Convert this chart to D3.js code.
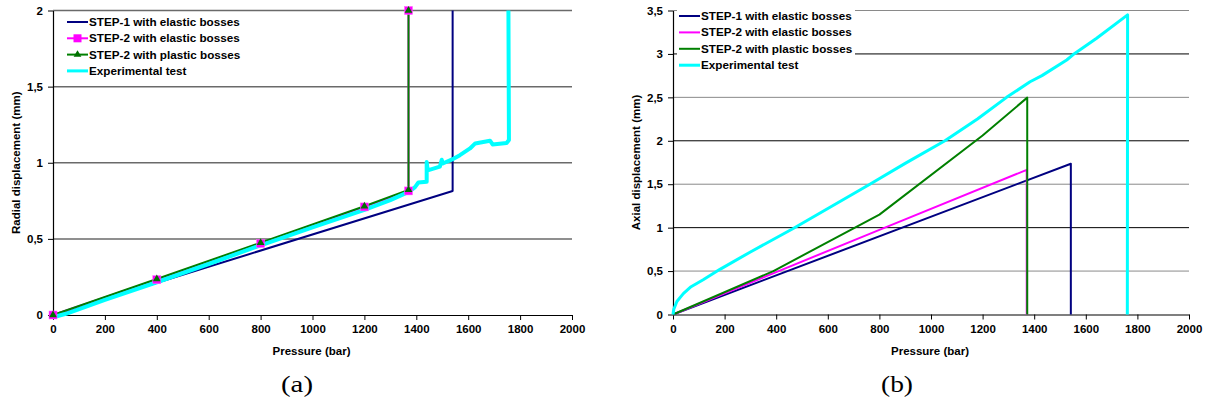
<!DOCTYPE html>
<html>
<head>
<meta charset="utf-8">
<script src="https://cdn.jsdelivr.net/npm/d3@7"></script>
<style>
  html, body { margin: 0; padding: 0; background: #fff; }
  svg { display: block; }
</style>
</head>
<body>
<svg id="chart" width="1208" height="403"></svg>
<script>
// ---------- DATA ----------
const pressureTicks = [0, 200, 400, 600, 800, 1000, 1200, 1400, 1600, 1800, 2000];
const radialTicks = [0, 0.5, 1, 1.5, 2];
const axialTicks = [0, 0.5, 1, 1.5, 2, 2.5, 3, 3.5];
const seriesNames = ["STEP-1 with elastic bosses", "STEP-2 with elastic bosses", "STEP-2 with plastic bosses", "Experimental test"];

// (a) Radial displacement (mm) vs pressure (bar)
const radialStep1Elastic = [[0, 0], [1540, 0.814], [1540, 2]];
const radialStep2Elastic = [[0, 0], [400, 0.232], [800, 0.47], [1200, 0.71], [1370, 0.815], [1370, 2]];
const radialStep2Plastic = [[0, 0], [400, 0.236], [800, 0.475], [1200, 0.714], [1370, 0.822], [1370, 2]];
const radialExperimental = [[0, -0.015], [50, 0.008], [200, 0.1], [400, 0.215], [600, 0.335], [800, 0.458], [1000, 0.575], [1200, 0.69], [1300, 0.755], [1373, 0.81], [1395, 0.84], [1408, 0.87], [1440, 0.875], [1440, 1.005], [1444, 0.95], [1491, 0.975], [1498, 1.02], [1502, 0.995], [1536, 1.02], [1568, 1.05], [1607, 1.094], [1627, 1.127], [1684, 1.145], [1694, 1.12], [1748, 1.13], [1757, 1.15], [1755, 2]];

// (b) Axial displacement (mm) vs pressure (bar)
const axialStep1Elastic = [[0, 0], [1542, 1.736], [1542, 0]];
const axialStep2Elastic = [[0, 0], [400, 0.488], [800, 0.975], [1371, 1.665], [1371, 0]];
const axialStep2Plastic = [[0, 0], [389, 0.5], [800, 1.15], [1200, 2.06], [1373, 2.497], [1373, 0]];
const axialExperimental = [[0, 0], [3, 0.06], [7, 0.09], [15, 0.15], [40, 0.24], [70, 0.32], [117, 0.40], [182, 0.52], [300, 0.72], [466, 0.99], [763, 1.5], [900, 1.74], [1054, 2.0], [1180, 2.25], [1293, 2.5], [1384, 2.68], [1430, 2.75], [1526, 2.93], [1550, 2.99], [1642, 3.18], [1762, 3.45], [1761, 0]];

const colors = ["#000080", "#ff00ff", "#008000", "#00ffff"];

// ---------- DRAW ----------
const svg = d3.select("#chart");
const fmt = d => String(d).replace(".", ",");
const SANS = "'Liberation Sans', Arial, sans-serif";
const FS = 11.5;

function panel(opts) {
  const g = svg.append("g").style("font-family", SANS);
  const x = d3.scaleLinear().domain([0, 2000]).range([opts.x0, opts.x1]);
  const y = d3.scaleLinear().domain([0, opts.ymax]).range([opts.y0, opts.y1]);

  // gridlines
  g.append("g").selectAll("line").data(opts.yTicks.filter(d => d > 0)).join("line")
    .attr("x1", opts.x0).attr("x2", opts.x1)
    .attr("y1", d => y(d)).attr("y2", d => y(d))
    .attr("stroke", d => opts.gridColor(d)).attr("stroke-width", opts.gridWidth);

  // axes
  const xAxis = d3.axisBottom(x).tickValues(pressureTicks).tickSize(5).tickSizeOuter(0).tickPadding(5).tickFormat(d => d);
  const gx = g.append("g").attr("transform", `translate(0,${opts.y0})`).call(xAxis);
  const yAxis = d3.axisLeft(y).tickValues(opts.yTicks).tickSize(5).tickSizeOuter(0).tickPadding(5).tickFormat(fmt);
  const gy = g.append("g").attr("transform", `translate(${opts.x0},0)`).call(yAxis);
  [gx, gy].forEach(a => {
    a.select(".domain").attr("stroke", "#000").attr("stroke-width", 1.2);
    a.selectAll(".tick line").attr("stroke", "#000");
    a.selectAll(".tick text").style("font-size", FS + "px").style("font-weight", "bold").attr("fill", "#000")
      .style("font-family", SANS);
  });

  // axis titles
  g.append("text").attr("x", (opts.x0 + opts.x1) / 2 - 1).attr("y", opts.y0 + 40)
    .attr("text-anchor", "middle").style("font-size", FS + "px").style("font-weight", "bold").text("Pressure (bar)");
  g.append("text").attr("transform", `translate(${opts.x0 - 33},${(opts.y0 + opts.y1) / 2}) rotate(-90)`)
    .attr("text-anchor", "middle").style("font-size", FS + "px").style("font-weight", "bold").text(opts.yTitle);

  // panel label
  g.append("text").attr("x", opts.labelX).attr("y", 392).attr("text-anchor", "middle")
    .attr("textLength", 32).attr("lengthAdjust", "spacingAndGlyphs")
    .style("font-family", "'Liberation Serif', 'Times New Roman', serif").style("font-size", "24px").text(opts.label);

  const line = d3.line().x(d => x(d[0])).y(d => y(d[1]));
  const sets = opts.series;
  // lines
  sets.forEach((s, i) => {
    g.append("path").datum(s).attr("d", line).attr("fill", "none")
      .attr("stroke", colors[i]).attr("stroke-width", i === 3 ? opts.expWidth : 2)
      .attr("stroke-linejoin", "round");
  });
  // markers
  if (opts.markers) {
    g.append("g").selectAll("rect").data(sets[1]).join("rect")
      .attr("x", d => x(d[0]) - 4).attr("y", d => y(d[1]) - 4).attr("width", 8).attr("height", 8)
      .attr("fill", "#ff00ff").attr("stroke", "#ff66ff").attr("stroke-width", 0.5);
    const tri = d3.symbol().type(d3.symbolTriangle).size(26);
    g.append("g").selectAll("path").data(sets[2]).join("path")
      .attr("transform", d => `translate(${x(d[0])},${y(d[1])})`)
      .attr("d", tri).attr("fill", "#007000");
  }

  // legend
  const lg = g.append("g");
  lg.append("rect").attr("x", opts.legX).attr("y", opts.legY - 8).attr("width", opts.legW).attr("height", 4 * opts.legStep + 2)
    .attr("fill", "#fff");
  seriesNames.forEach((n, i) => {
    const yy = opts.legY + i * opts.legStep;
    lg.append("line").attr("x1", opts.legX + 2).attr("x2", opts.legX + 23).attr("y1", yy).attr("y2", yy)
      .attr("stroke", colors[i]).attr("stroke-width", i === 3 ? 3 : 2);
    if (opts.markers && i === 1) {
      lg.append("rect").attr("x", opts.legX + 8.5).attr("y", yy - 4).attr("width", 8).attr("height", 8).attr("fill", "#ff00ff");
    }
    if (opts.markers && i === 2) {
      lg.append("path").attr("transform", `translate(${opts.legX + 12.5},${yy})`)
        .attr("d", d3.symbol().type(d3.symbolTriangle).size(26)).attr("fill", "#007000");
    }
    lg.append("text").attr("x", opts.legX + 24).attr("y", yy + 4).style("font-size", "11.7px").style("font-weight", "bold").text(n);
  });
}

panel({
  x0: 53, x1: 572, y0: 315, y1: 10.5, ymax: 2, yTicks: radialTicks,
  yTitle: "Radial displacement (mm)", label: "(a)", labelX: 297,
  gridColor: () => "#6a6a6a", gridWidth: 1.5, expWidth: 4, markers: true,
  series: [radialStep1Elastic, radialStep2Elastic, radialStep2Plastic, radialExperimental],
  legX: 65, legY: 22, legStep: 16.3, legW: 190
});

panel({
  x0: 673, x1: 1189, y0: 314.5, y1: 10.5, ymax: 3.5, yTicks: axialTicks,
  yTitle: "Axial displacement (mm)", label: "(b)", labelX: 897,
  gridColor: d => (d % 1 === 0 ? "#000" : "#8a8a8a"), gridWidth: 1, expWidth: 3, markers: false,
  series: [axialStep1Elastic, axialStep2Elastic, axialStep2Plastic, axialExperimental],
  legX: 677, legY: 16, legStep: 16.4, legW: 178
});
</script>
</body>
</html>
